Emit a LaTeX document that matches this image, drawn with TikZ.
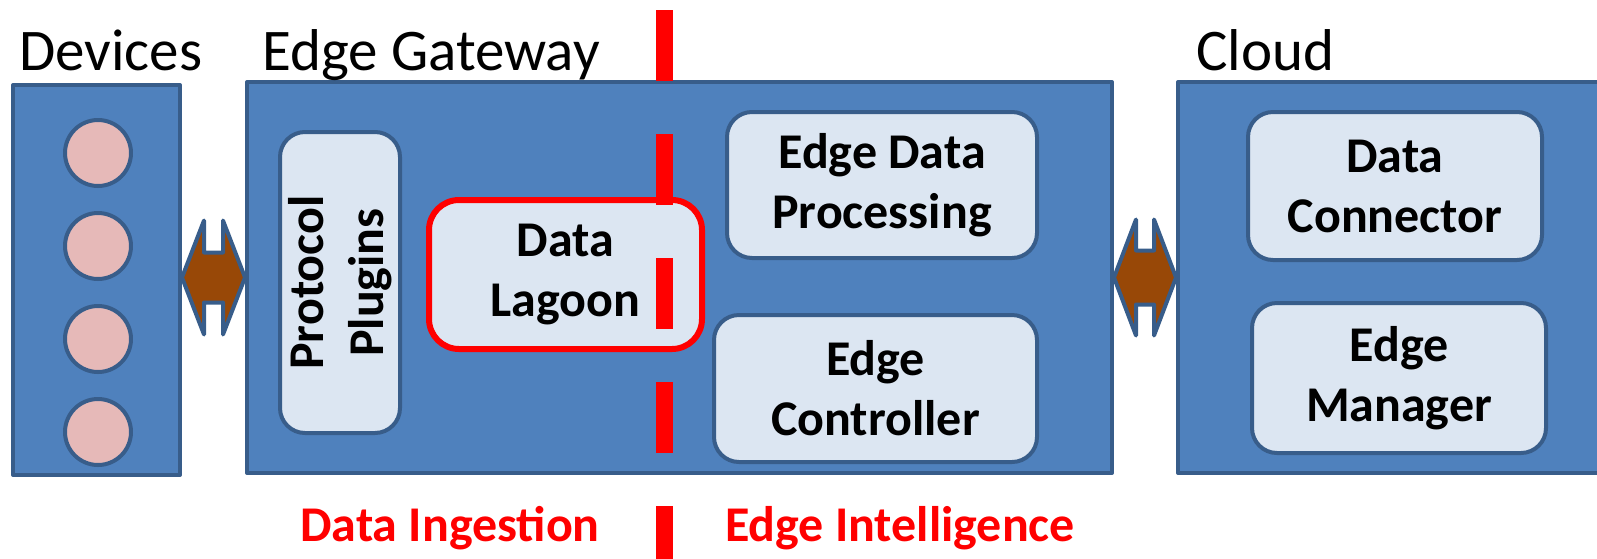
\documentclass[tikz,border=0pt]{standalone}
\usepackage{fontspec}
\setmainfont{Carlito}
\usepackage{xcolor}
\usepackage{tikz}
\usetikzlibrary{positioning,calc}

\definecolor{boxblue}{HTML}{4F81BD}
\definecolor{boxline}{HTML}{385D8A}
\definecolor{paleblue}{HTML}{DCE6F2}
\definecolor{devpink}{HTML}{E6B9B8}
\definecolor{linkbrown}{HTML}{984807}
\definecolor{cutred}{HTML}{FF0000}

\begin{document}
\begin{tikzpicture}[
    x = 1pt, y = -1pt, % pixel grid, y grows downwards
    line join = round, % no spiky corners
    node distance = 23pt % gap between device circles
]
\tikzstyle{tier}=[
    draw = boxline,
    line width = 4pt,
    fill = boxblue,
    inner sep = 0pt
]
\tikzstyle{module}=[
    draw = boxline,
    line width = 4pt,
    fill = paleblue,
    rounded corners = 25pt,
    align = center,
    inner sep = 0pt,
    font = \bfseries\fontsize{50}{60}\selectfont
]
\tikzstyle{device}=[
    circle,
    draw = boxline,
    line width = 4pt,
    fill = devpink,
    minimum size = 66pt,
    inner sep = 0pt
]
\tikzstyle{title}=[anchor = base west, inner sep = 0pt, font = \fontsize{59}{70}\selectfont]
\tikzstyle{side}=[anchor = base, inner sep = 0pt, text = cutred, font = \bfseries\fontsize{50}{60}\selectfont]
\tikzstyle{link}=[draw = boxline, line width = 4pt, fill = linkbrown]

\useasboundingbox (0,0) rectangle (1597,558);
\clip (0,0) rectangle (1597,558);

% tiers
\node[tier, minimum width = 167pt, minimum height = 390pt] (dev) at (96.5,280) {};
\node[tier, minimum width = 865pt, minimum height = 391pt] (gw) at (679.5,277.5) {};
\node[tier, minimum width = 460pt, minimum height = 391pt] (cloud) at (1408,277.5) {};

\node[title] (devt) at (19,70) {Devices};
\node[title] (gwt) at (262,70) {Edge Gateway};
\node[title] (cloudt) at (1196,70) {Cloud};

% devices
\node[device] (d1) at (98,153) {};
\node[device] (d2) [below = of d1] {};
\node[device] (d3) [below = of d2] {};
\node[device] (d4) [below = of d3] {};

% modules
\node[module, rotate = 90, minimum width = 301pt, minimum height = 120pt] (plug) at (340,282.5) {Protocol\\Plugins};
\node[module, draw = cutred, line width = 6pt, rounded corners = 30pt, minimum width = 273pt, minimum height = 149pt] (lagoon) at (565.5,274.5) {Data\\Lagoon};
\node[module, minimum width = 310pt, minimum height = 146pt] (proc) at (882,185) {Edge Data\\Processing};
\node[module, minimum width = 323pt, minimum height = 147pt] (ctrl) at (875.5,388.5) {Edge\\Controller};
\node[module, minimum width = 294pt, minimum height = 148pt] (conn) at (1395,186) {Data\\Connector};
\node[module, minimum width = 294pt, minimum height = 150pt] (mgr) at (1399,378) {Edge\\Manager};

% ingestion / intelligence split
\coordinate (cuttop) at (664,10);
\coordinate (cutbot) at (664,570);
\draw[cutred, line width = 17pt, dash pattern = on 71pt off 53pt] (cuttop) -- (cutbot);

\node[side] (ingest) at (450,541) {Data Ingestion};
\node[side] (intel) at (900,541) {Edge Intelligence};

% links between tiers
\coordinate (l1) at (dev.east |- gw.west);
\draw[link] (l1) -- ++(22,-57) -- ++(0,32) -- ($(gw.west)+(-22,-25)$) -- ++(0,-32) -- (gw.west)
    -- ++(-22,57) -- ++(0,-32) -- ($(l1)+(22,25)$) -- ++(0,32) -- cycle;
\coordinate (l2) at (gw.east |- cloud.west);
\draw[link] (l2) -- ++(22,-58) -- ++(0,31) -- ($(cloud.west)+(-22,-27)$) -- ++(0,-31) -- (cloud.west)
    -- ++(-22,58) -- ++(0,-31) -- ($(l2)+(22,27)$) -- ++(0,31) -- cycle;

\end{tikzpicture}
\end{document}
